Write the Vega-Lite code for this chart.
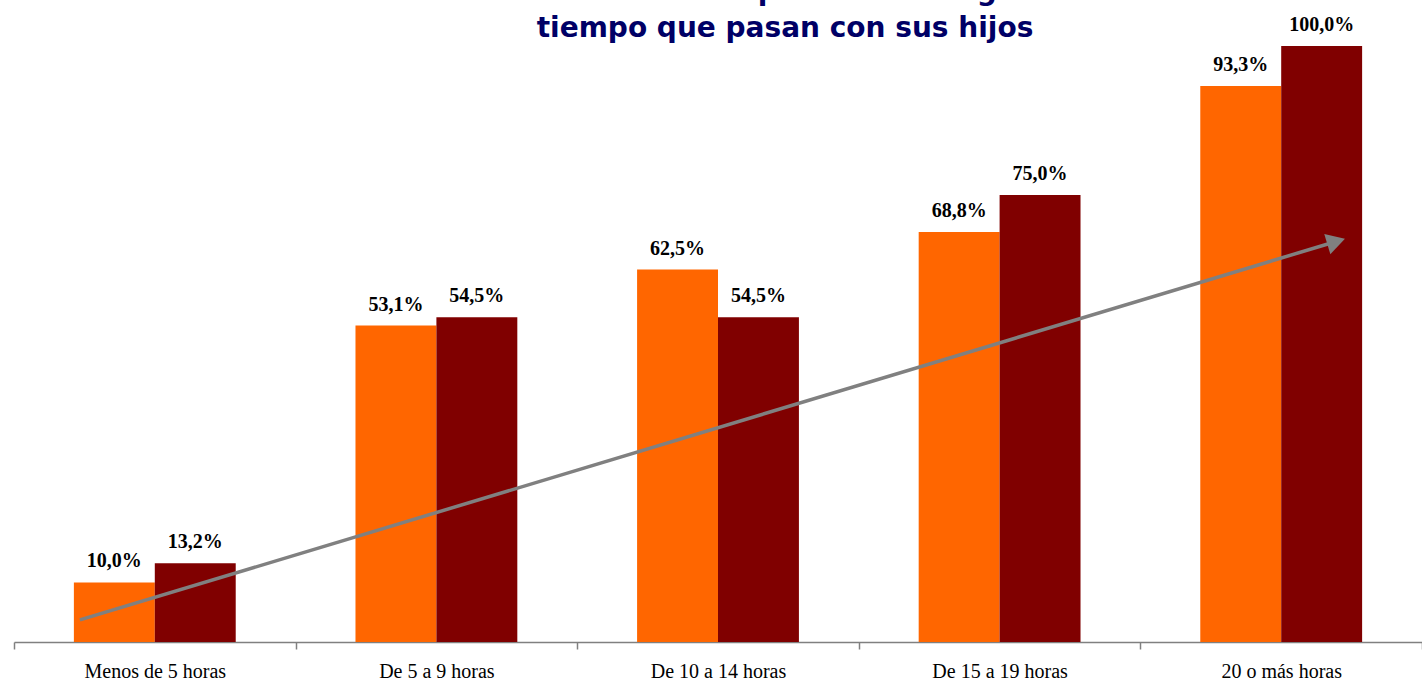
{
  "$schema": "https://vega.github.io/schema/vega-lite/v6.json",
  "autosize": {"type": "none"},
  "width": 1408,
  "height": 596,
  "padding": {"left": 14, "top": 46, "right": 0, "bottom": 46},
  "background": "white",
  "title": {
    "text": ["Valoración de la paternidad según el", "tiempo que pasan con sus hijos"],
    "font": "DejaVu Sans",
    "fontWeight": "bold",
    "fontSize": 28,
    "color": "#000066",
    "anchor": "middle",
    "frame": "group",
    "dx": 67,
    "lineHeight": 37,
    "offset": -28
  },
  "config": {
    "view": {"stroke": null},
    "locale": {
      "number": {"decimal": ",", "thousands": ".", "grouping": [3], "currency": ["", " €"]}
    }
  },
  "datasets": {
    "barras": [
      {"categoria": "Menos de 5 horas", "serie": "Serie 1", "valor": 0.100},
      {"categoria": "Menos de 5 horas", "serie": "Serie 2", "valor": 0.132},
      {"categoria": "De 5 a 9 horas", "serie": "Serie 1", "valor": 0.531},
      {"categoria": "De 5 a 9 horas", "serie": "Serie 2", "valor": 0.545},
      {"categoria": "De 10 a 14 horas", "serie": "Serie 1", "valor": 0.625},
      {"categoria": "De 10 a 14 horas", "serie": "Serie 2", "valor": 0.545},
      {"categoria": "De 15 a 19 horas", "serie": "Serie 1", "valor": 0.688},
      {"categoria": "De 15 a 19 horas", "serie": "Serie 2", "valor": 0.750},
      {"categoria": "20 o más horas", "serie": "Serie 1", "valor": 0.933},
      {"categoria": "20 o más horas", "serie": "Serie 2", "valor": 1.000}
    ],
    "flecha": [
      {"pos": 0.234, "valor": 0.037},
      {"pos": 4.695, "valor": 0.672}
    ],
    "punta": [
      {"pos": 4.695, "valor": 0.672}
    ]
  },
  "layer": [
    {
      "data": {"name": "barras"},
      "encoding": {
        "x": {
          "field": "categoria",
          "type": "nominal",
          "sort": null,
          "scale": {"paddingInner": 0, "paddingOuter": 0},
          "axis": {
            "title": null,
            "labelAngle": 0,
            "labelFont": "Liberation Serif",
            "labelFontSize": 20,
            "labelColor": "#000000",
            "labelPadding": 12,
            "domainColor": "#808080",
            "domainWidth": 1.5,
            "tickColor": "#808080",
            "tickWidth": 1.5,
            "tickSize": 7,
            "tickBand": "extent",
            "grid": false
          }
        },
        "xOffset": {
          "field": "serie",
          "type": "nominal",
          "scale": {"paddingInner": 0, "paddingOuter": 0.74}
        },
        "y": {
          "field": "valor",
          "type": "quantitative",
          "scale": {"domain": [0, 1], "nice": false},
          "axis": null
        }
      },
      "layer": [
        {
          "mark": {"type": "bar"},
          "encoding": {
            "color": {
              "field": "serie",
              "type": "nominal",
              "scale": {"domain": ["Serie 1", "Serie 2"], "range": ["#FF6600", "#800000"]},
              "legend": null
            }
          }
        },
        {
          "mark": {
            "type": "text",
            "baseline": "alphabetic",
            "dy": -15,
            "font": "Liberation Serif",
            "fontWeight": "bold",
            "fontSize": 20,
            "color": "#000000"
          },
          "encoding": {
            "text": {"field": "valor", "type": "quantitative", "format": ".1%"}
          }
        }
      ]
    },
    {
      "data": {"name": "flecha"},
      "mark": {"type": "line", "color": "#808080", "strokeWidth": 3.5},
      "encoding": {
        "x": {"field": "pos", "type": "quantitative", "scale": {"domain": [0, 5], "nice": false, "zero": false}, "axis": null},
        "y": {"field": "valor", "type": "quantitative", "scale": {"domain": [0, 1], "nice": false}, "axis": null}
      }
    },
    {
      "data": {"name": "punta"},
      "mark": {"type": "point", "shape": "triangle-right", "filled": true, "color": "#808080", "opacity": 1, "size": 450, "angle": -16.7},
      "encoding": {
        "x": {"field": "pos", "type": "quantitative", "scale": {"domain": [0, 5], "nice": false, "zero": false}, "axis": null},
        "y": {"field": "valor", "type": "quantitative", "scale": {"domain": [0, 1], "nice": false}, "axis": null}
      }
    }
  ],
  "resolve": {"scale": {"x": "independent"}, "axis": {"x": "independent"}}
}
